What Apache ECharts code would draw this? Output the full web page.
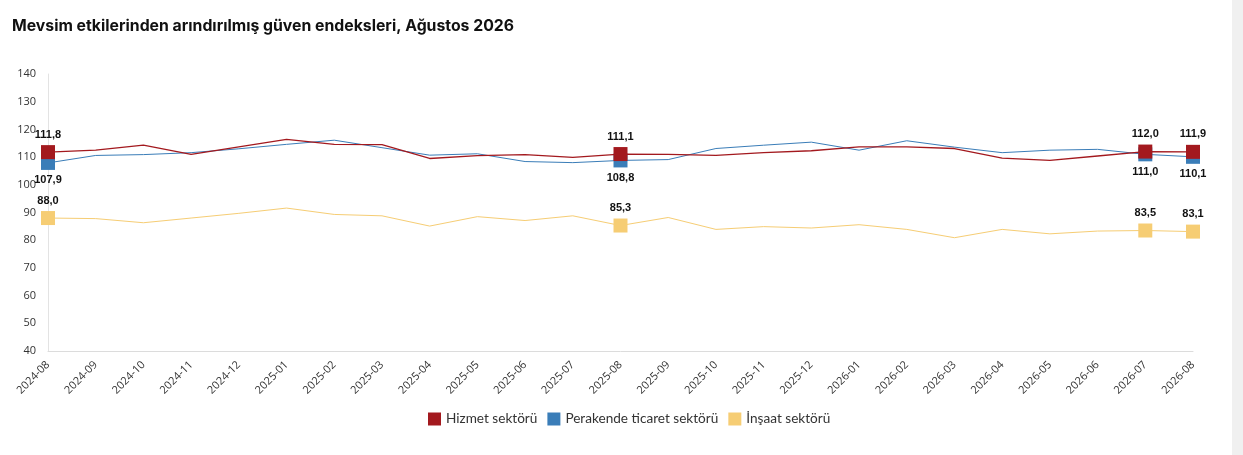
<!DOCTYPE html>
<html>
<head>
<meta charset="utf-8">
<script src="https://cdn.jsdelivr.net/npm/echarts@6/dist/echarts.min.js"></script>
<style>
html,body{margin:0;padding:0;background:#fff;}
#wrap{position:relative;width:1243px;height:455px;}
#chart{position:absolute;left:0;top:0;width:1232px;height:455px;}
#bar{position:absolute;left:1232px;top:0;width:11px;height:455px;background:#f0f0f0;}
</style>
</head>
<body>
<div id="wrap"><div id="chart"></div><div id="bar"></div></div>
<script>
const categories = ["2024-08","2024-09","2024-10","2024-11","2024-12","2025-01","2025-02","2025-03","2025-04","2025-05","2025-06","2025-07","2025-08","2025-09","2025-10","2025-11","2025-12","2026-01","2026-02","2026-03","2026-04","2026-05","2026-06","2026-07","2026-08"];
const hizmet    = [111.8,112.5,114.3,111.0,113.7,116.4,114.6,114.5,109.5,110.5,110.9,109.9,111.1,111.0,110.6,111.6,112.3,113.7,113.7,113.1,109.6,108.8,110.4,112.0,111.9];
const perakende = [107.9,110.6,110.9,111.6,113.0,114.6,116.1,113.4,110.7,111.2,108.4,108.0,108.8,109.1,113.1,114.3,115.4,112.5,115.9,113.6,111.6,112.5,112.8,111.0,110.1];
const insaat    = [88.0,87.8,86.3,88.0,89.7,91.6,89.3,88.8,85.1,88.5,87.1,88.8,85.3,88.2,83.9,84.9,84.4,85.6,83.9,80.9,83.9,82.3,83.3,83.5,83.1];
const markedIdx = [0,12,23,24];
const seriesNames = ["Hizmet sektörü","Perakende ticaret sektörü","İnşaat sektörü"];
const colors = ["#a3191e","#3a7db8","#f6cd74"];

function buildData(arr, labelPos){
  return arr.map((v,i)=> markedIdx.includes(i)
    ? {value:v, symbol:'rect', symbolSize:14, label:{show:true, position:labelPos}}
    : {value:v, symbol:'none'});
}
const fmt = p => Number(p.value).toFixed(1).replace('.',',');
const lbl = {fontFamily:'Liberation Sans, Arial, sans-serif', fontWeight:'bold', fontSize:11, color:'#111', formatter:fmt};

const chart = echarts.init(document.getElementById('chart'));
chart.setOption({
  animation:false,
  backgroundColor:'#fff',
  title:{text:'Mevsim etkilerinden arındırılmış güven endeksleri, Ağustos 2026', left:7, top:13,
    textStyle:{fontFamily:'Inter, sans-serif', fontWeight:'bold', fontSize:15.8, color:'#111'}},
  legend:{bottom:24, left:423, icon:'rect', itemWidth:13, itemHeight:13, itemGap:10,
    textStyle:{fontFamily:'Lato, Inter, sans-serif', fontSize:13.6, color:'#333'},
    data:seriesNames},
  grid:{left:48, right:39, top:74, bottom:104, containLabel:false},
  xAxis:{type:'category', data:categories, boundaryGap:false,
    axisLine:{lineStyle:{color:'#dcdcdc'}}, axisTick:{show:false},
    axisLabel:{rotate:45, fontFamily:'Open Sans, sans-serif', fontSize:11, color:'#333', margin:12, interval:0}},
  yAxis:{type:'value', min:40, max:140, interval:10,
    axisLine:{show:true, lineStyle:{color:'#e3e3e3'}}, axisTick:{show:false},
    splitLine:{show:false},
    axisLabel:{fontFamily:'Open Sans, sans-serif', fontSize:11, color:'#333', margin:12}},
  series:[
    {name:seriesNames[0], type:'line', data:buildData(hizmet,'top'), color:colors[0], z:4,
      lineStyle:{width:1.3, color:colors[0]}, itemStyle:{color:colors[0]}, showAllSymbol:true, label:lbl},
    {name:seriesNames[1], type:'line', data:buildData(perakende,'bottom'), color:colors[1], z:3,
      lineStyle:{width:1, color:colors[1]}, itemStyle:{color:colors[1]}, showAllSymbol:true, label:lbl},
    {name:seriesNames[2], type:'line', data:buildData(insaat,'top'), color:colors[2], z:2,
      lineStyle:{width:1, color:colors[2]}, itemStyle:{color:colors[2]}, showAllSymbol:true, label:lbl}
  ]
});
</script>
</body>
</html>
